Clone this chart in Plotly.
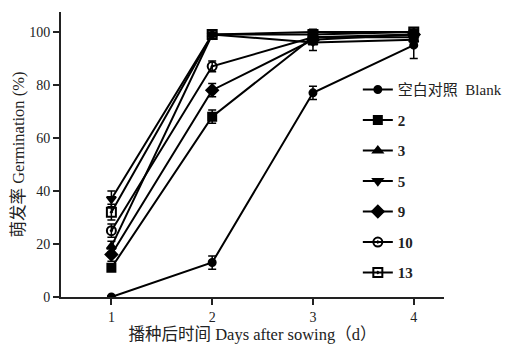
import plotly.graph_objects as go

days = [1, 2, 3, 4]
names = ["空白对照  Blank", "<b>2</b>", "<b>3</b>", "<b>5</b>", "<b>9</b>", "<b>10</b>", "<b>13</b>"]
blank = [0, 13, 77, 95]
s2 = [11, 68, 98, 98]
s3 = [19, 99, 96, 97]
s5 = [37, 99, 100, 100]
s9 = [16, 78, 97, 99]
s10 = [25, 87, 98, 99]
s13 = [32, 99, 99, 100]
err_blank = [0.5, 2.5, 2.5, 5]
err_2 = [1, 2.5, 1, 1]
err_3 = [2, 1.5, 3, 2]
err_5 = [3, 1.5, 1, 1]
err_9 = [2.5, 2.5, 1.5, 1]
err_10 = [2.5, 2, 1, 1]
err_13 = [3, 1.5, 1, 1]

series = [blank, s2, s3, s5, s9, s10, s13]
errs = [err_blank, err_2, err_3, err_5, err_9, err_10, err_13]
symbols = ["circle", "square", "triangle-up", "triangle-down", "diamond", "circle-open-dot", "square-open-dot"]
sizes = [7, 8, 8, 8, 9, 9, 9]

fig = go.Figure()
for i, (nm, ys, er, sym, sz) in enumerate(zip(names, series, errs, symbols, sizes)):
    fig.add_trace(go.Scatter(
        x=days, y=ys, name=nm, mode="lines+markers",
        line=dict(color="black", width=2),
        marker=dict(symbol=sym, size=sz, color="black", line=dict(color="black", width=2)),
        error_y=dict(type="data", array=er, color="black", thickness=1.5, width=4),
        legendgroup=str(i),
    ))

fig.update_layout(
    width=518, height=344,
    margin=dict(l=61, r=73, t=12, b=47),
    paper_bgcolor="white", plot_bgcolor="white",
    font=dict(family="Liberation Serif, Noto Sans CJK SC", color="#222", size=14),
    showlegend=True,
    legend=dict(x=0.773, y=0.785, xanchor="left", yanchor="top",
                font=dict(family="Liberation Serif, Noto Sans CJK SC", size=15, color="#222"),
                tracegroupgap=8, bgcolor="rgba(0,0,0,0)", itemwidth=30),
    xaxis=dict(range=[0.5, 4.3], tickvals=days, ticktext=["1", "2", "3", "4"], automargin=False,
               showline=True, linecolor="#222", linewidth=2, ticks="outside",
               ticklen=6, tickwidth=2, tickcolor="#222", showgrid=False, zeroline=False,
               title=dict(text="播种后时间 Days after sowing（d）", standoff=5,
                          font=dict(family="Liberation Serif, Noto Sans CJK SC", size=16.5))),
    yaxis=dict(range=[0, 107.5], tickvals=[0, 20, 40, 60, 80, 100], automargin=False,
               showline=True, linecolor="#222", linewidth=2, ticks="outside",
               ticklen=6, tickwidth=2, tickcolor="#222", showgrid=False, zeroline=False,
               title=dict(text="萌发率 Germination (%)", standoff=0,
                          font=dict(family="Liberation Serif, Noto Sans CJK SC", size=16.5))),
)
fig.write_html("out.html", config={"displayModeBar": False},
               post_script="document.body.style.margin='0';document.body.style.overflow='hidden';")
